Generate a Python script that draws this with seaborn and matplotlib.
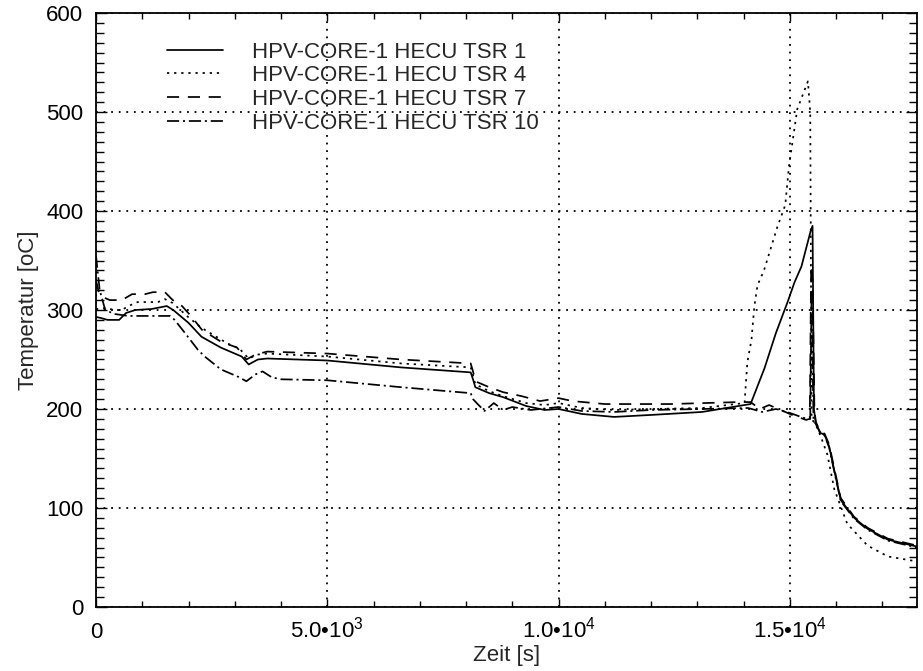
import pandas as pd
import matplotlib
matplotlib.use("Agg")
import matplotlib.pyplot as plt
from matplotlib.ticker import MultipleLocator
import seaborn as sns

# Werte (Zeit in s, Temperatur in oC)
series_names = ['HPV-CORE-1 HECU TSR 1', 'HPV-CORE-1 HECU TSR 4',
                'HPV-CORE-1 HECU TSR 7', 'HPV-CORE-1 HECU TSR 10']

t_tsr1 = [0, 100, 250, 500, 650, 850, 1200, 1530, 1670, 2000,
          2280, 2700, 3150, 3300, 3500, 3700, 5000, 6600, 8100, 8150,
          8200, 8500, 8800, 9300, 9700, 10000, 10500, 11200, 12000, 13100,
          14150, 14450, 14700, 14950, 15100, 15250, 15450, 15490, 15520, 15560,
          15650, 15750, 15850, 15950, 16100, 16390, 16680, 17120, 17750]
temp_tsr1 = [293, 292, 290, 290, 297, 300, 301, 304, 300, 287,
             273, 262, 253, 245, 250, 251, 249, 242, 237, 230,
             222, 216, 212, 203, 199, 200, 195, 192, 194, 197,
             205, 241, 277, 308, 328, 344, 380, 385, 200, 186,
             176, 174, 162, 140, 108, 90, 79, 68, 61]

t_tsr4 = [0, 200, 400, 560, 700, 900, 1340, 1490, 1660, 1990,
          2280, 2850, 3100, 3300, 3500, 3700, 5000, 6600, 8100, 8150,
          8200, 8500, 8800, 9300, 9700, 10000, 10500, 11200, 12000, 13100,
          14020, 14080, 14170, 14230, 14300, 14440, 14730, 14900, 14980, 15160,
          15390, 15440, 15470, 15560, 15670, 15810, 15960, 16240, 16680, 17120,
          17750]
temp_tsr4 = [301, 302, 300, 300, 304, 308, 308, 311, 307, 293,
             282, 266, 261, 251, 255, 256, 253, 246, 242, 234,
             225, 218, 213, 206, 204, 206, 201, 199, 200, 201,
             206, 247, 270, 303, 325, 340, 384, 406, 445, 503,
             531, 500, 190, 184, 172, 154, 119, 84, 62, 51,
             46]

t_tsr7 = [0, 60, 150, 300, 560, 780, 1060, 1230, 1490, 1660,
          1860, 2070, 2290, 2700, 3050, 3250, 3450, 3700, 5000, 6600,
          8100, 8150, 8200, 8500, 8800, 9200, 9600, 10000, 10300, 11000,
          12400, 13900, 14150, 14350, 14550, 14850, 15050, 15350, 15430, 15460,
          15490, 15530, 15560, 15650, 15750, 15850, 15950, 16100, 16390, 16680,
          17120, 17750]
temp_tsr7 = [330, 318, 313, 310, 310, 316, 316, 318, 318, 310,
             304, 293, 280, 268, 262, 250, 255, 258, 256, 250,
             246, 238, 228, 222, 217, 213, 208, 211, 208, 205,
             205, 207, 207, 200, 204, 198, 194, 189, 190, 345,
             330, 200, 187, 178, 175, 164, 142, 110, 91, 80,
             69, 62]

t_tsr10 = [0, 80, 200, 400, 700, 1000, 1600, 1700, 1920, 2200,
           2350, 2700, 3100, 3250, 3450, 3600, 3800, 4000, 5000, 6600,
           8100, 8150, 8250, 8400, 8600, 8800, 9000, 9400, 9800, 10000,
           10500, 11200, 12000, 13100, 14100, 14400, 14700, 15000, 15300, 15440,
           15470, 15510, 15560, 15650, 15750, 15850, 15950, 16100, 16390, 16680,
           17120, 17750]
temp_tsr10 = [355, 320, 300, 296, 294, 294, 294, 290, 277, 260,
              253, 240, 232, 228, 235, 238, 232, 230, 229, 222,
              216, 210, 205, 198, 206, 199, 202, 199, 201, 202,
              198, 197, 199, 200, 201, 197, 200, 196, 191, 190,
              320, 188, 185, 177, 173, 161, 139, 107, 89, 78,
              67, 60]

x_ticks = [0, 5000, 10000, 15000]
x_ticklabels = ['0', '5.0•10$^{3}$', '1.0•10$^{4}$', '1.5•10$^{4}$']
y_ticks = [0, 100, 200, 300, 400, 500, 600]

# long-form Tabelle fuer seaborn
frames = []
for name, t, temp in zip(series_names,
                         [t_tsr1, t_tsr4, t_tsr7, t_tsr10],
                         [temp_tsr1, temp_tsr4, temp_tsr7, temp_tsr10]):
    frames.append(pd.DataFrame({'zeit': t, 'temp': temp, 'reihe': name}))
df = pd.concat(frames, ignore_index=True)

sns.set_style('ticks')
plt.rcParams['font.family'] = ['Liberation Sans', 'DejaVu Sans']
plt.rcParams['mathtext.fontset'] = 'custom'
plt.rcParams['mathtext.rm'] = 'Liberation Sans'
plt.rcParams['mathtext.it'] = 'Liberation Sans:italic'
plt.rcParams['mathtext.bf'] = 'Liberation Sans:bold'

fig = plt.figure(figsize=(9.23, 6.71), dpi=100)
ax = fig.add_axes([0.104, 0.0954, 0.8896, 0.8852])

dash_map = {
    series_names[0]: '',
    series_names[1]: (1.3, 2.8),
    series_names[2]: (7, 5),
    series_names[3]: (7, 2.2, 1.2, 2.2),
}
sns.lineplot(data=df, x='zeit', y='temp', style='reihe', dashes=dash_map,
             color='black', linewidth=1.25, estimator=None, sort=False, ax=ax)

ax.set_xlim(0, 17750)
ax.set_ylim(0, 600)
ax.set_xticks(x_ticks)
ax.set_xticklabels(x_ticklabels)
ax.set_yticks(y_ticks)
ax.xaxis.set_minor_locator(MultipleLocator(1000))
ax.yaxis.set_minor_locator(MultipleLocator(10))
ax.tick_params(which='both', direction='in', top=True, right=True,
               color='black', width=1.0, labelsize=16, labelcolor='black')
ax.tick_params(axis='x', which='major', length=6, pad=22)
ax.tick_params(axis='x', which='minor', length=4)
ax.tick_params(axis='y', which='major', length=8, pad=9)
ax.tick_params(axis='y', which='minor', length=6)
plt.setp(ax.get_xticklabels(), va='baseline')

ax.grid(True, which='major', color='black', linestyle=(0, (1, 3.2)), linewidth=1.3)
for sp in ax.spines.values():
    sp.set_color('black')
    sp.set_linewidth(1.3)

ax.set_xlabel('Zeit [s]', fontsize=16, labelpad=2)
ax.set_ylabel('Temperatur [oC]', fontsize=16, labelpad=5)

leg = ax.get_legend()
handles = leg.legend_handles
labels = [txt.get_text() for txt in leg.get_texts()]
ax.legend(handles, labels, loc='upper left', bbox_to_anchor=(0.086, 0.952),
          frameon=False, fontsize=16, handlelength=2.55, handletextpad=1.3,
          labelspacing=0.12, borderaxespad=0, borderpad=0)

fig.savefig('out.png', dpi=100)
